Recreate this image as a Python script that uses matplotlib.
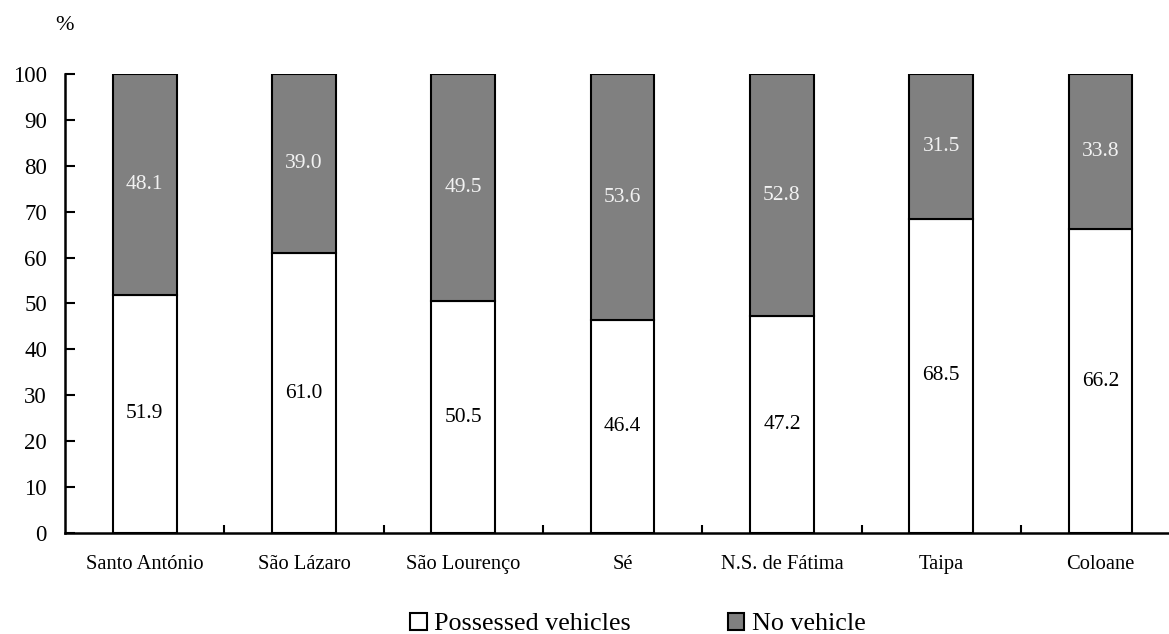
import matplotlib
matplotlib.use("Agg")
import matplotlib.pyplot as plt
from matplotlib.patches import Patch
import numpy as np

# district names and share of households (%)
districts = ["Santo António", "São Lázaro", "São Lourenço", "Sé",
             "N.S. de Fátima", "Taipa", "Coloane"]
possessed = [51.9, 61.0, 50.5, 46.4, 47.2, 68.5, 66.2]
no_vehicle = [48.1, 39.0, 49.5, 53.6, 52.8, 31.5, 33.8]
series_names = ["Possessed vehicles", "No vehicle"]
y_ticks = list(range(0, 101, 10))

plt.rcParams["font.family"] = ["Liberation Serif", "DejaVu Serif"]

fig = plt.figure(figsize=(11.69, 6.34), dpi=100)
ax = fig.add_axes([0.0556, 0.1593, 0.954, 0.724])

x = np.arange(len(districts))
width = 0.40
grey = "#808080"

ax.bar(x, possessed, width, color="white", edgecolor="black", linewidth=1.5)
ax.bar(x, no_vehicle, width, bottom=possessed, color=grey,
       edgecolor="black", linewidth=1.5)

for xi, p, n in zip(x, possessed, no_vehicle):
    ax.text(xi, p / 2, f"{p:.1f}", ha="center", va="center",
            fontsize=15.5, color="black")
    ax.text(xi, p + n / 2, f"{n:.1f}", ha="center", va="center",
            fontsize=15.5, color="#f2f2f2")

ax.set_xlim(-0.5, len(districts) - 0.5)
ax.set_ylim(0, 100)
ax.set_yticks(y_ticks)
ax.tick_params(axis="y", direction="in", length=7, width=1.5, pad=13,
               labelsize=16.5)

# categories labelled at centres, tick marks at boundaries
ax.set_xticks(x)
ax.set_xticklabels(districts, fontsize=14.8)
ax.tick_params(axis="x", which="major", length=0, pad=16)
ax.set_xticks(x[:-1] + 0.5, minor=True)
ax.tick_params(axis="x", which="minor", direction="in", length=6, width=1.5)

for side in ["top", "right"]:
    ax.spines[side].set_visible(False)
for side in ["left", "bottom"]:
    ax.spines[side].set_linewidth(1.8)

fig.text(64 / 1169, 1 - 25 / 634, "%", ha="center", va="center", fontsize=16)

handles = [Patch(facecolor="white", edgecolor="black", linewidth=1.5),
           Patch(facecolor=grey, edgecolor="black", linewidth=1.5)]
fig.legend(handles, series_names, loc="center", ncol=2,
           bbox_to_anchor=(638 / 1169, 1 - 624 / 634), frameon=False,
           fontsize=18.8, handlelength=0.62, handleheight=0.62,
           handletextpad=0.3, columnspacing=3.7, borderaxespad=0)

fig.savefig("out.png", dpi=100)
